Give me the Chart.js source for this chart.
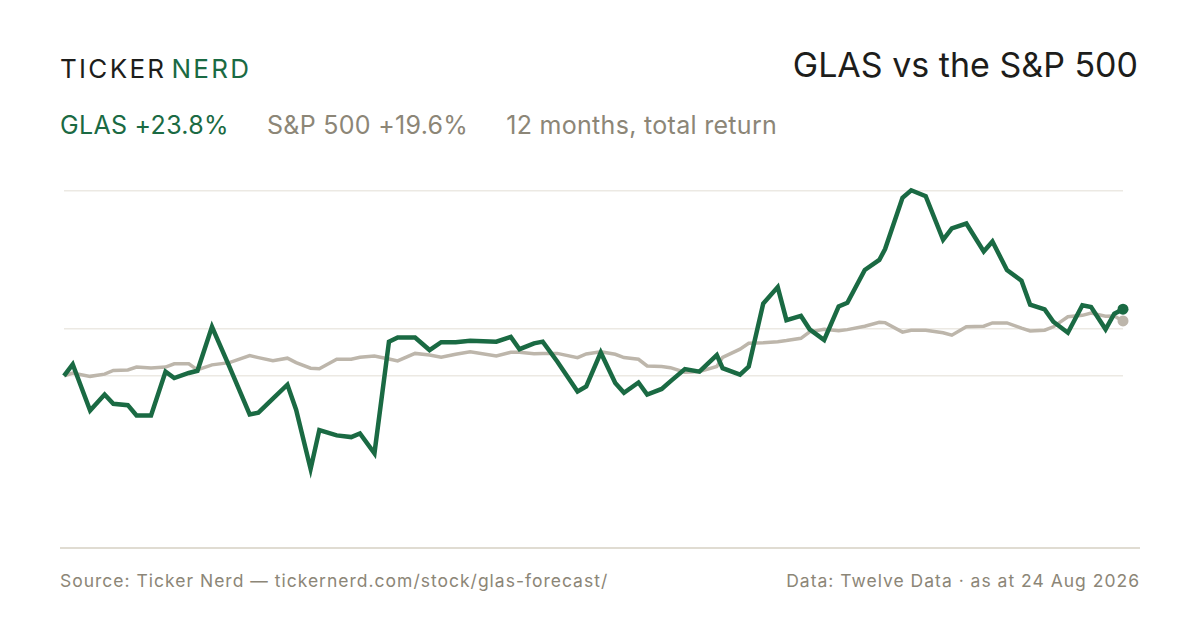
<!DOCTYPE html>
<html>
<head>
<meta charset="utf-8">
<script src="https://cdn.jsdelivr.net/npm/chart.js@4.4.1/dist/chart.umd.min.js"></script>
<style>
  html, body { margin: 0; padding: 0; background: #fff; }
  body { width: 1200px; height: 630px; position: relative; overflow: hidden; font-family: Inter, "Noto Sans", sans-serif; }
  .abs { position: absolute; line-height: 1; white-space: nowrap; }
  .brand { left: 60px; top: 56px; font-size: 26px; letter-spacing: 2.3px; color: #1d1d1b; }
  .brand .nerd { color: #1a6a43; margin-left: 5px; }
  .title { right: 62px; top: 48px; font-size: 34px; color: #1d1d1b; }
  .sub { left: 60px; top: 113px; font-size: 25px; letter-spacing: 0.3px; color: #8c8677; }
  .sub .glas { color: #1a6a43; margin-right: 38px; }
  .sub .spx { margin-right: 38px; }
  .rule { position: absolute; left: 60px; top: 547px; width: 1080px; height: 2px; background: #e0dcd2; }
  .foot { top: 572px; font-size: 17.5px; letter-spacing: 1px; color: #8c8677; }
  .foot.left { left: 60px; }
  .foot.right { right: 60px; }
  #wrap { position: absolute; left: 50px; top: 166px; width: 1090px; height: 386px; }
</style>
</head>
<body>
<div class="abs brand">TICKER<span class="nerd">NERD</span></div>
<div class="abs title">GLAS vs the S&amp;P 500</div>
<div class="abs sub"><span class="glas">GLAS +23.8%</span><span class="spx">S&amp;P 500 +19.6%</span><span>12 months, total return</span></div>
<div id="wrap"><canvas id="chart"></canvas></div>
<div class="rule"></div>
<div class="abs foot left">Source: Ticker Nerd — tickernerd.com/stock/glas-forecast/</div>
<div class="abs foot right">Data: Twelve Data · as at 24 Aug 2026</div>

<script>
// days since start of the 12-month window
const days = [0, 3, 9, 14, 17, 22, 25, 30, 35, 38, 43, 46, 51, 57, 64, 67, 72, 77, 80, 85,
  88, 94, 99, 102, 107, 112, 115, 121, 126, 130, 135, 140, 149, 154, 157, 162, 165, 170, 177, 180,
  185, 190, 193, 198, 201, 206, 209, 214, 219, 225, 227, 233, 236, 241, 246, 249, 254, 257, 262, 267,
  270, 276, 281, 283, 289, 292, 297, 303, 306, 311, 317, 320, 325, 330, 333, 338, 341, 346, 351, 354,
  359, 362, 365];

// cumulative total return, %
const glasReturn = [0, 4.1, -12.4, -6.7, -10.0, -10.5, -14.2, -14.2, 1.5, -0.8, 1.0, 1.8, 17.5, 3.3, -13.8, -13.2, -8.2, -3.2, -12.1, -33.3,
  -19.4, -21.3, -21.9, -20.6, -27.7, 12.2, 13.7, 13.7, 9.2, 12.0, 12.0, 12.5, 12.2, 13.9, 9.5, 11.6, 12.2, 5.1, -5.6, -3.8,
  8.3, -2.6, -6.1, -2.4, -6.7, -4.7, -2.0, 2.4, 1.5, 7.4, 2.7, 0.4, 3.3, 25.8, 31.7, 19.9, 21.4, 16.6, 12.8, 24.8,
  26.1, 37.8, 41.4, 45.3, 63.6, 66.3, 64.2, 48.6, 52.7, 54.4, 44.4, 48.0, 37.8, 34.0, 25.4, 23.7, 19.3, 15.4, 25.2, 24.6,
  16.6, 22.2, 23.8];

const spxReturn = [0, 1.0, -0.2, 0.6, 1.9, 2.1, 3.1, 2.8, 3.1, 4.3, 4.3, 2.1, 3.9, 4.7, 7.2, 6.5, 5.4, 6.3, 4.7, 2.7,
  2.5, 5.9, 5.9, 6.6, 7.1, 6.0, 5.3, 8.0, 7.4, 6.6, 7.7, 8.6, 7.1, 8.4, 8.4, 7.9, 8.0, 8.0, 6.5, 7.8,
  8.6, 7.7, 6.5, 5.9, 3.5, 3.3, 2.9, 1.3, 1.5, 3.3, 6.6, 9.5, 11.6, 11.8, 12.2, 12.6, 13.4, 15.7, 16.6, 16.1,
  16.5, 17.7, 19.1, 19.0, 15.6, 16.3, 16.3, 15.4, 14.5, 17.5, 17.7, 18.9, 18.9, 17.0, 16.0, 16.3, 17.5, 21.1, 21.6, 22.4,
  21.3, 21.4, 19.6];

const gridLevels = [0, 16.7, 66.3];

const GREEN = '#1a6a43';
const GREY = '#bdb6ab';

const lastDot = r => ctx => ctx.dataIndex === days.length - 1 ? r : 0;

new Chart(document.getElementById('chart'), {
  type: 'line',
  data: {
    datasets: [
      {
        label: 'GLAS',
        data: days.map((d, i) => ({ x: d, y: glasReturn[i] })),
        borderColor: GREEN,
        backgroundColor: GREEN,
        borderWidth: 4.5,
        pointRadius: lastDot(5.5),
        pointBorderWidth: 0,
        tension: 0,
        clip: false,
        order: 0
      },
      {
        label: 'S&P 500',
        data: days.map((d, i) => ({ x: d, y: spxReturn[i] })),
        borderColor: GREY,
        backgroundColor: GREY,
        borderWidth: 3.5,
        pointRadius: lastDot(5.5),
        pointBorderWidth: 0,
        tension: 0,
        clip: false,
        order: 1
      }
    ]
  },
  options: {
    responsive: true,
    maintainAspectRatio: false,
    animation: false,
    layout: { padding: { left: 14, right: 17, top: 0, bottom: 0 } },
    plugins: { legend: { display: false }, tooltip: { enabled: false } },
    scales: {
      x: { type: 'linear', min: 0, max: 365, display: false },
      y: {
        min: -61,
        max: 73,
        afterBuildTicks: axis => { axis.ticks = gridLevels.map(v => ({ value: v })); },
        ticks: { display: false },
        border: { display: false },
        grid: { color: '#ece9e3', lineWidth: 1.5, drawTicks: false }
      }
    }
  }
});
</script>
</body>
</html>
